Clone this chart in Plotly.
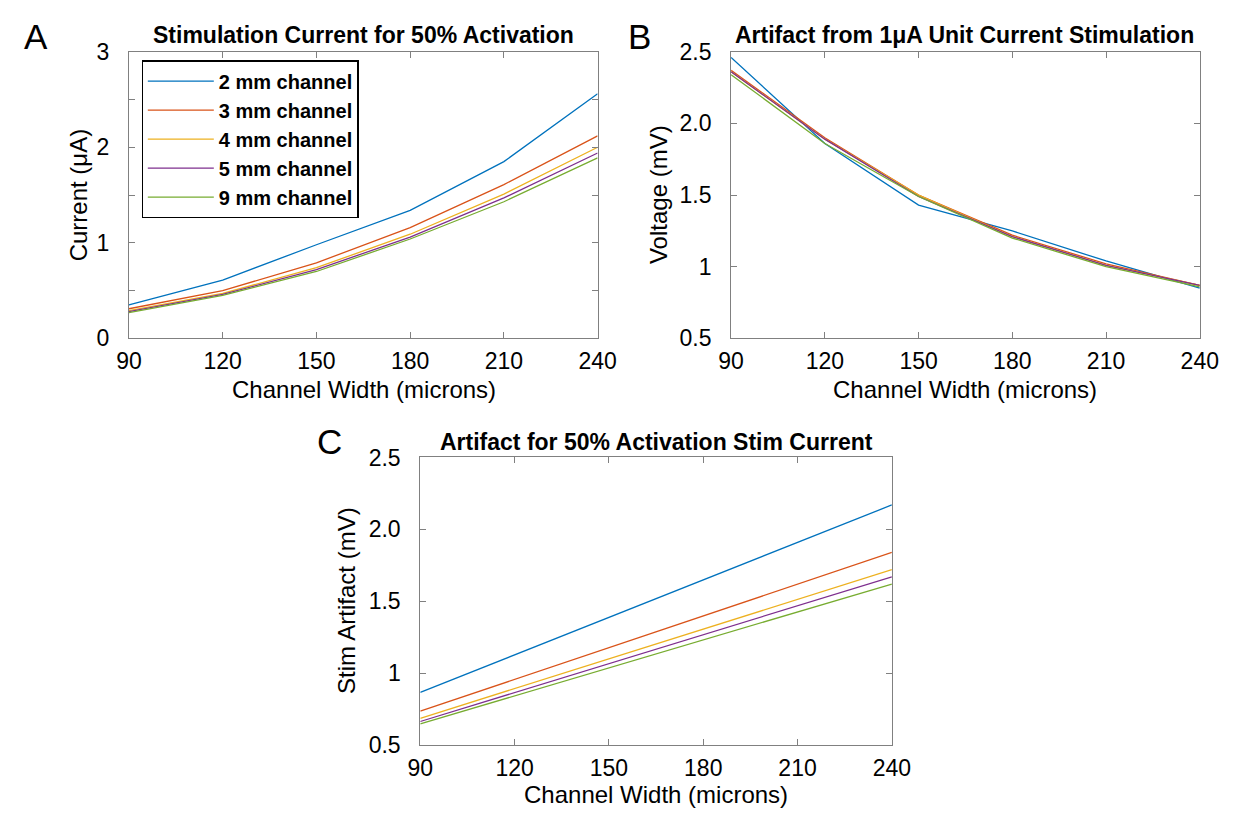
import plotly.graph_objects as go

widths = [90, 120, 150, 180, 210, 240]
names = ["2 mm channel", "3 mm channel", "4 mm channel", "5 mm channel", "9 mm channel"]
colors = ["#0072BD", "#D95319", "#EDB120", "#7E2F8E", "#77AC30"]

# Panel A: stimulation current for 50% activation (uA)
current = [
    [0.35, 0.61, 0.98, 1.34, 1.85, 2.56],
    [0.31, 0.50, 0.79, 1.16, 1.61, 2.12],
    [0.29, 0.47, 0.74, 1.09, 1.51, 2.00],
    [0.28, 0.46, 0.72, 1.06, 1.47, 1.94],
    [0.27, 0.45, 0.70, 1.04, 1.43, 1.89],
]
# Panel B: artifact from 1 uA unit current stimulation (mV)
voltage = [
    [2.46, 1.86, 1.43, 1.25, 1.04, 0.85],
    [2.37, 1.90, 1.50, 1.22, 1.02, 0.87],
    [2.36, 1.89, 1.50, 1.21, 1.01, 0.87],
    [2.36, 1.89, 1.49, 1.21, 1.01, 0.87],
    [2.34, 1.86, 1.49, 1.20, 1.00, 0.86],
]
# Panel C: artifact for 50% activation stim current (mV)
widths_c = [90, 240]
artifact = [
    [0.866, 2.17],
    [0.736, 1.84],
    [0.686, 1.72],
    [0.664, 1.67],
    [0.648, 1.62],
]

W, H = 1248, 822
FONT = "Liberation Sans, Arial, sans-serif"

fig = go.Figure()

for i in range(5):
    fig.add_trace(go.Scatter(x=widths, y=current[i], mode="lines", name=names[i],
                             line=dict(color=colors[i], width=1.3), xaxis="x", yaxis="y",
                             showlegend=True))
for i in range(5):
    fig.add_trace(go.Scatter(x=widths, y=voltage[i], mode="lines", name=names[i],
                             line=dict(color=colors[i], width=1.3), xaxis="x2", yaxis="y2",
                             showlegend=False))
for i in range(5):
    fig.add_trace(go.Scatter(x=widths_c, y=artifact[i], mode="lines", name=names[i],
                             line=dict(color=colors[i], width=1.3), xaxis="x3", yaxis="y3",
                             showlegend=False))

def px_x(v):
    return v / W

def px_y(v):
    return 1 - v / H

panels = {
    "": (119, 600, 40, 336),
    "2": (737, 1218, 40, 336),
    "3": (418, 902, 459, 756),
}

axis_common = dict(
    showline=True, linecolor="#808080", linewidth=1, mirror="allticks",
    ticks="inside", ticklen=6, tickcolor="#808080", showgrid=False, zeroline=False,
    tickfont=dict(family=FONT, size=23, color="#000000"),
)

xtv = [90, 120, 150, 180, 210, 240]
layout = {}
for k, (l, r, t, b) in panels.items():
    layout["xaxis" + k] = dict(axis_common, domain=[px_x(l), px_x(r)], range=[90, 240],
                              tickvals=xtv, ticktext=[str(v) for v in xtv],
                              anchor="y" + k, ticklabelstandoff=2)
    layout["yaxis" + k] = dict(axis_common, domain=[px_y(b), px_y(t)],
                              anchor="x" + k, ticklabelstandoff=14)

layout["yaxis"].update(range=[0, 3], tickvals=[0, 0.5, 1, 1.5, 2, 2.5, 3],
                       ticktext=["0", "", "1", "", "2", "", "3"])
for k in ["2", "3"]:
    layout["yaxis" + k].update(range=[0.5, 2.5], tickvals=[0.5, 1, 1.5, 2, 2.5],
                               ticktext=["0.5", "1", "1.5", "2.0", "2.5"])

fig.update_layout(**layout)

annotations = []
def ann(text, x, y, size, bold=False, angle=0, xanchor="center", yanchor="middle"):
    annotations.append(dict(text=("<b>%s</b>" % text) if bold else text,
                            x=px_x(x), y=px_y(y), xref="paper", yref="paper",
                            showarrow=False, textangle=angle, xanchor=xanchor, yanchor=yanchor,
                            font=dict(family=FONT, size=size, color="#000000")))

# Panel letters
ann("A", 24, 24, 35)
ann("B", 643, 24, 35)
ann("C", 325, 443, 35)
# Titles
ann("Stimulation Current for 50% Activation", 360, 23, 23, bold=True)
ann("Artifact from 1μA Unit Current Stimulation", 977, 23, 23, bold=True)
ann("Artifact for 50% Activation Stim Current", 660, 443, 23, bold=True)
# Axis titles
ann("Channel Width (microns)", 360, 389, 24)
ann("Channel Width (microns)", 977, 389, 24)
ann("Channel Width (microns)", 660, 807, 24)
ann("Current (μA)", 67, 188, 24, angle=-90)
ann("Voltage (mV)", 662, 188, 24, angle=-90)
ann("Stim Artifact (mV)", 343, 607, 24, angle=-90)

fig.update_layout(
    width=W, height=H, margin=dict(l=0, r=0, t=0, b=0),
    paper_bgcolor="white", plot_bgcolor="white",
    annotations=annotations,
    legend=dict(x=px_x(132), y=px_y(49), xanchor="left", yanchor="top",
                bgcolor="white", bordercolor="#000000", borderwidth=1.2,
                font=dict(family=FONT, size=20, color="#000000", weight="bold"),
                itemwidth=66, tracegroupgap=0),
    showlegend=True,
)

fig.write_html("out.html",
               post_script="document.body.style.margin='0';document.body.style.overflow='hidden';")
